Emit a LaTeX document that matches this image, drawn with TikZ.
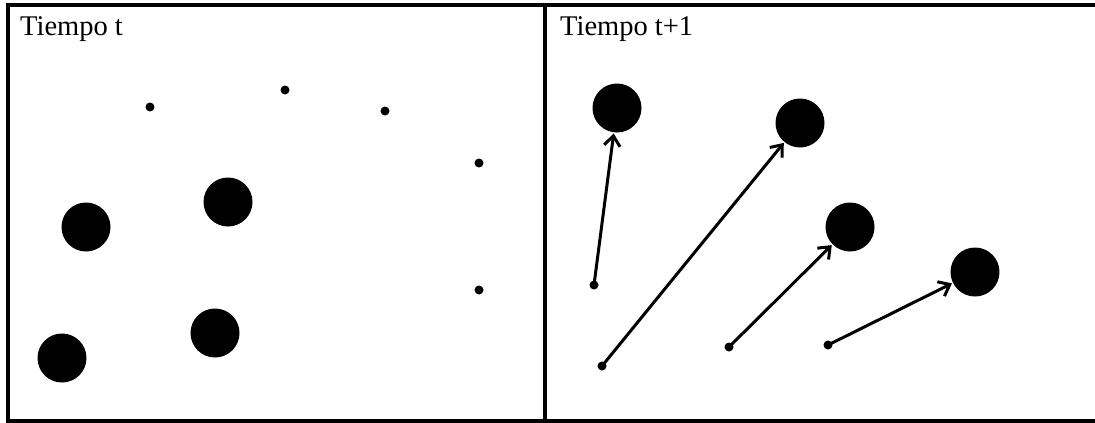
\documentclass[tikz,border=0pt]{standalone}
\usepackage{fontspec}
\setmainfont{Liberation Serif}
\usetikzlibrary{arrows.meta}
\begin{document}
\begin{tikzpicture}[x=1pt,y=-1pt,
  frame/.style={line width=4pt,line cap=rect},
  big/.style={circle,fill=black,minimum size=49pt,inner sep=0pt},
  dot/.style={circle,fill=black,minimum size=9pt,inner sep=0pt},
  label/.style={anchor=base west,inner sep=0pt,font=\fontsize{28.5}{31}\selectfont},
  move/.style={line width=3pt,-{Straight Barb[length=10pt,width=16pt,line width=3pt]},shorten >=1pt}]
\useasboundingbox (0,0) rectangle (1095,423);
\fill[white] (0,0) rectangle (1095,423);
% frame
\coordinate (tl) at (8,5);
\coordinate (tr) at (1100,5);
\coordinate (bl) at (8,421);
\coordinate (br) at (1100,421);
\coordinate (mt) at (545,5);
\coordinate (mb) at (545,421);
\draw[frame] (tr) -- (tl) -- (bl) -- (br);
\draw[frame] (mt) -- (mb);
% labels
\node[label] (lt) at (20,35) {Tiempo t};
\node[label] (lt1) at (560,35) {Tiempo t+1};
% left panel
\node[dot] (d1) at (150,107) {};
\node[dot] (d2) at (285,90) {};
\node[dot] (d3) at (385,111) {};
\node[dot] (d4) at (479,163) {};
\node[dot] (d5) at (479,290) {};
\node[big] (b1) at (86,227) {};
\node[big] (b2) at (228,202) {};
\node[big] (b3) at (62,358) {};
\node[big] (b4) at (215,333) {};
% right panel
\node[big] (c1) at (617,108) {};
\node[big] (c2) at (800,123) {};
\node[big] (c3) at (850,227) {};
\node[big] (c4) at (975,272) {};
\node[dot] (e1) at (594,285) {};
\node[dot] (e2) at (602,366) {};
\node[dot] (e3) at (729,347) {};
\node[dot] (e4) at (828,345) {};
\draw[move] (e1.center) -- (c1);
\draw[move] (e2.center) -- (c2);
\draw[move] (e3.center) -- (c3);
\draw[move] (e4.center) -- (c4);
\end{tikzpicture}
\end{document}
